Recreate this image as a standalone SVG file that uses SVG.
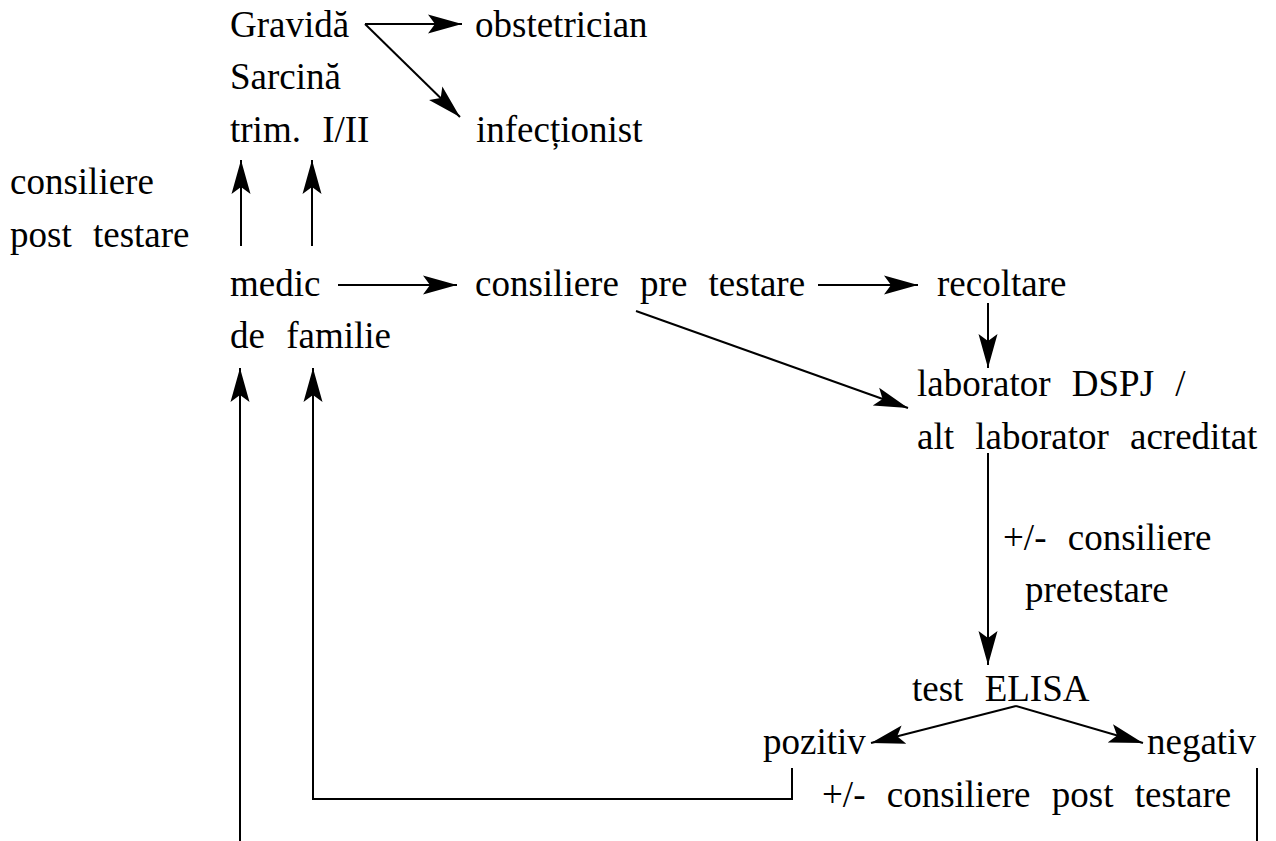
<svg xmlns="http://www.w3.org/2000/svg" width="1276" height="841" viewBox="0 0 1276 841">
  <style>
    text { font-family: 'Liberation Serif', 'DejaVu Serif', serif; font-size: 37px; fill: #000; word-spacing: 12px; }
    .edge { stroke: #000; stroke-width: 2; fill: none; }
  </style>
  <defs>
    <marker id="arrow" markerUnits="userSpaceOnUse" viewBox="-36 -11 37 22" refX="0" refY="0" markerWidth="37" markerHeight="22" orient="auto">
      <path d="M0,0 L-34,-9.5 L-27,0 L-34,9.5 Z" fill="#000"/>
    </marker>
  </defs>
  <rect width="1276" height="841" fill="#fff"/>

  <g id="connectors">
    <line class="edge" x1="365" y1="24" x2="462" y2="24" marker-end="url(#arrow)"/>
    <line class="edge" x1="365" y1="24" x2="460" y2="117" marker-end="url(#arrow)"/>
    <line class="edge" x1="241" y1="246" x2="241" y2="160" marker-end="url(#arrow)"/>
    <line class="edge" x1="312" y1="246" x2="312" y2="160" marker-end="url(#arrow)"/>
    <line class="edge" x1="338" y1="285" x2="457" y2="285" marker-end="url(#arrow)"/>
    <line class="edge" x1="818" y1="285" x2="918" y2="285" marker-end="url(#arrow)"/>
    <line class="edge" x1="988" y1="303" x2="988" y2="368" marker-end="url(#arrow)"/>
    <line class="edge" x1="636" y1="311" x2="908" y2="408" marker-end="url(#arrow)"/>
    <line class="edge" x1="988" y1="453" x2="988" y2="665" marker-end="url(#arrow)"/>
    <line class="edge" x1="1016" y1="706" x2="871" y2="743" marker-end="url(#arrow)"/>
    <line class="edge" x1="1016" y1="706" x2="1143" y2="743" marker-end="url(#arrow)"/>
    <polyline class="edge" points="792,768 792,799 313,799 313,368" marker-end="url(#arrow)"/>
    <line class="edge" x1="240" y1="841" x2="240" y2="368" marker-end="url(#arrow)"/>
    <line class="edge" x1="1257" y1="768" x2="1257" y2="841"/>
  </g>

  <g id="gravida">
    <text x="230" y="37">Gravidă</text>
    <text x="230" y="89">Sarcină</text>
    <text x="230" y="142">trim. I/II</text>
  </g>
  <g id="obstetrician"><text x="475" y="37">obstetrician</text></g>
  <g id="infectionist"><text x="476" y="142">infecționist</text></g>
  <g id="consiliere-post">
    <text x="10" y="194">consiliere</text>
    <text x="10" y="247">post testare</text>
  </g>
  <g id="medic">
    <text x="230" y="296">medic</text>
    <text x="230" y="348">de familie</text>
  </g>
  <g id="consiliere-pre"><text x="475" y="296">consiliere pre testare</text></g>
  <g id="recoltare"><text x="937" y="296">recoltare</text></g>
  <g id="laborator">
    <text x="917" y="396">laborator DSPJ /</text>
    <text x="917" y="449">alt laborator acreditat</text>
  </g>
  <g id="label-pretestare">
    <text x="1003" y="550">+/- consiliere</text>
    <text x="1025" y="602">pretestare</text>
  </g>
  <g id="elisa"><text x="912" y="701">test ELISA</text></g>
  <g id="pozitiv"><text x="763" y="754">pozitiv</text></g>
  <g id="negativ"><text x="1147" y="754">negativ</text></g>
  <g id="label-post"><text x="822" y="807">+/- consiliere post testare</text></g>
</svg>
